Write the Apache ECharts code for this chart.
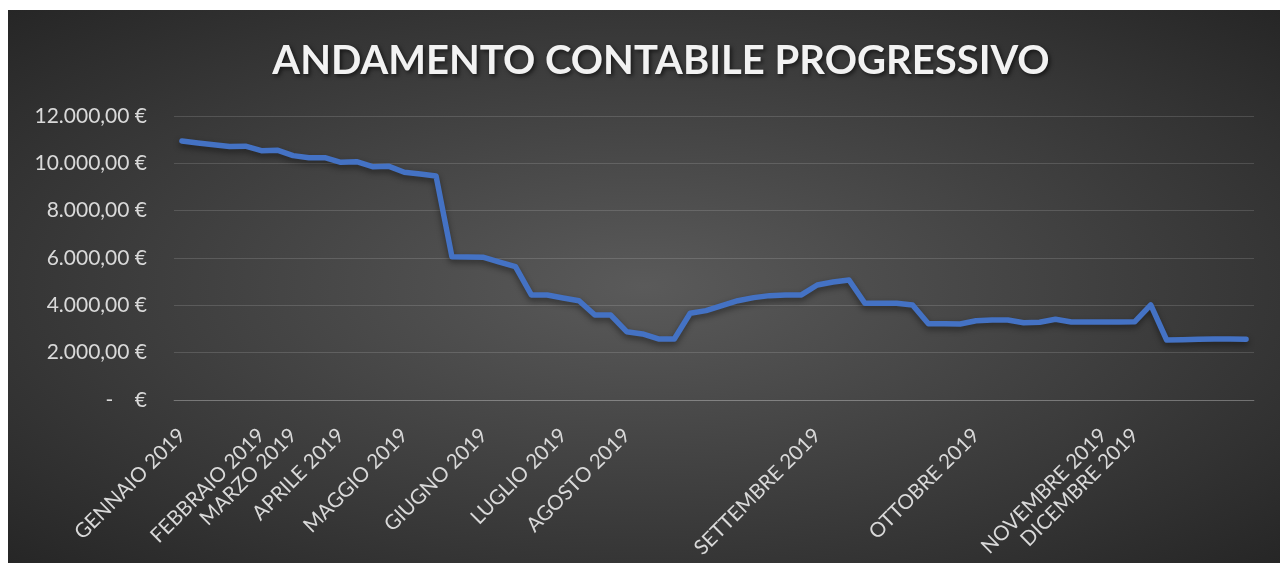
<!DOCTYPE html>
<html>
<head>
<meta charset="utf-8">
<title>Andamento contabile progressivo</title>
<script src="https://cdn.jsdelivr.net/npm/echarts@6/dist/echarts.min.js"></script>
<style>
  html, body {
    margin: 0;
    padding: 0;
    background: #ffffff;
  }
  #main {
    position: absolute;
    left: 8px;
    top: 10px;
    width: 1272px;
    height: 553px;
    background: radial-gradient(ellipse farthest-corner at 50% 50%, #5a5a5a 0%, #262626 100%);
  }
</style>
</head>
<body>
<div id="main"></div>
<script>
// etichette dei mesi e indice del primo movimento di ogni mese
const monthNames = ['GENNAIO 2019', 'FEBBRAIO 2019', 'MARZO 2019', 'APRILE 2019', 'MAGGIO 2019', 'GIUGNO 2019',
  'LUGLIO 2019', 'AGOSTO 2019', 'SETTEMBRE 2019', 'OTTOBRE 2019', 'NOVEMBRE 2019', 'DICEMBRE 2019']
const monthStart = [0, 5, 7, 10, 14, 19, 24, 28, 40, 50, 58, 60]

// saldo progressivo (euro) per movimento
const saldo = [
  10945, 10860, 10785, 10715, 10725, 10535, 10555, 10325, 10240, 10240,
  10045, 10070, 9860, 9880, 9625, 9545, 9465, 6055, 6045, 6030,
  5830, 5635, 4440, 4435, 4310, 4195, 3590, 3590, 2885, 2790,
  2580, 2575, 3665, 3775, 3985, 4195, 4325, 4410, 4435, 4440,
  4860, 4985, 5070, 4085, 4085, 4085, 4015, 3220, 3225, 3210,
  3350, 3380, 3380, 3265, 3285, 3410, 3295, 3295, 3295, 3295,
  3310, 4015, 2535, 2550, 2565, 2575, 2580, 2565
]

const yMin = 0
const yMax = 12000
const yStep = 2000

// categorie: etichetta solo sul primo movimento del mese
const categories = saldo.map(function (v, i) {
  const k = monthStart.indexOf(i)
  return k >= 0 ? monthNames[k] : ''
})

function euro (v) {
  if (v === 0) return '-    €'
  const parts = v.toFixed(2).split('.')
  return parts[0].replace(/\B(?=(\d{3})+(?!\d))/g, '.') + ',' + parts[1] + ' €'
}

const myChart = echarts.init(document.getElementById('main'), null, { renderer: 'canvas' })

const option = {
  backgroundColor: 'transparent',
  title: {
    text: 'ANDAMENTO CONTABILE PROGRESSIVO',
    left: 648,
    textAlign: 'center',
    top: 26,
    textStyle: {
      fontFamily: 'Lato',
      fontWeight: 'bold',
      fontSize: 40,
      color: '#f2f2f2',
      textShadowColor: 'rgba(0,0,0,0.6)',
      textShadowBlur: 4,
      textShadowOffsetX: 2,
      textShadowOffsetY: 2
    }
  },
  grid: {
    left: 166,
    right: 26,
    top: 106,
    bottom: 163,
    containLabel: false,
    outerBoundsMode: 'none'
  },
  xAxis: {
    type: 'category',
    data: categories,
    boundaryGap: true,
    axisLine: {
      show: true,
      lineStyle: { color: 'rgba(255,255,255,0.2)', width: 1 }
    },
    axisTick: { show: false },
    axisLabel: {
      interval: 0,
      rotate: 45,
      margin: 32,
      color: '#d9d9d9',
      fontFamily: 'Lato',
      fontSize: 20.5
    },
    splitLine: { show: false }
  },
  yAxis: {
    type: 'value',
    min: yMin,
    max: yMax,
    interval: yStep,
    axisLine: { show: false },
    axisTick: { show: false },
    axisLabel: {
      margin: 27,
      color: '#d9d9d9',
      fontFamily: 'Lato',
      fontSize: 21,
      formatter: euro
    },
    splitLine: {
      lineStyle: { color: 'rgba(255,255,255,0.14)', width: 1 }
    }
  },
  series: [
    {
      name: 'Saldo',
      type: 'line',
      data: saldo,
      symbol: 'none',
      smooth: false,
      lineStyle: {
        color: '#4472c4',
        width: 5.5,
        cap: 'round',
        join: 'round',
        shadowColor: 'rgba(0,0,0,0.45)',
        shadowBlur: 6,
        shadowOffsetY: 3
      }
    }
  ],
  animation: false
}

myChart.setOption(option)
</script>
</body>
</html>
